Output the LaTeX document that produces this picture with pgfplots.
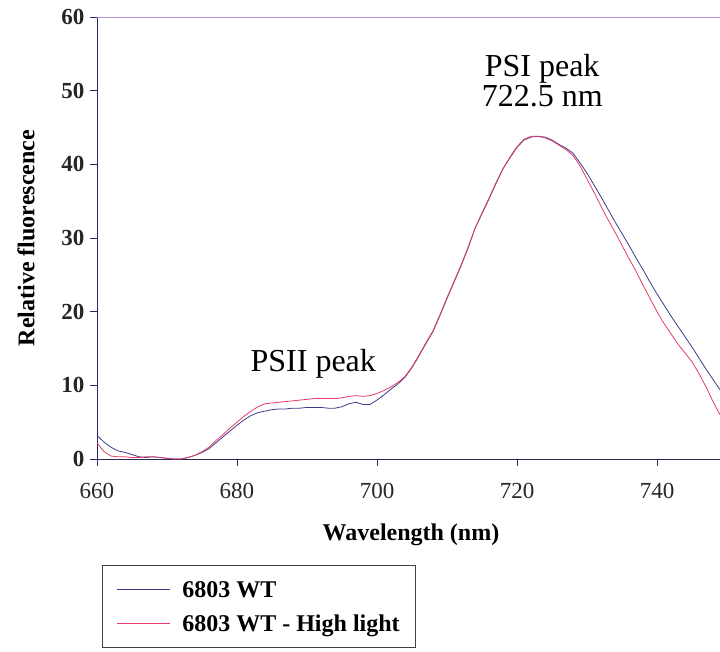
\documentclass[border=0pt]{standalone}
\usepackage{fontspec}
\setmainfont{Liberation Serif}
\usepackage{pgfplots}
\pgfplotsset{compat=1.18}

\definecolor{wtblue}{RGB}{60,60,140}
\definecolor{hlred}{RGB}{232,60,104}
\definecolor{axisnavy}{RGB}{40,40,90}
\definecolor{toplav}{RGB}{180,150,220}

\begin{document}
\begin{tikzpicture}
\begin{axis}[
  scale only axis,
  width=623pt, height=442pt,
  xmin=660, xmax=749, ymin=0, ymax=60,
  clip=false,
  axis x line*=bottom, axis y line*=left,
  axis line style={axisnavy, line width=0.9pt, -},
  xtick={660,680,700,720,740},
  ytick={0,10,20,30,40,50,60},
  tick align=outside,
  major tick length=7pt,
  tick style={axisnavy, line width=0.8pt},
  /pgf/number format/assume math mode=true,
  /pgf/number format/1000 sep={},
  xticklabel style={font=\fontsize{23}{27}\selectfont, text=black!85, yshift=-14pt},
  yticklabel style={font=\bfseries\fontsize{23}{27}\selectfont, text=black!85, xshift=-2pt},
  xlabel={Wavelength (nm)},
  ylabel={Relative fluorescence},
  every axis x label/.style={at={(axis description cs:0,0)}, xshift=314pt, yshift=-76pt, anchor=center, font=\bfseries\fontsize{24}{28}\selectfont},
  every axis y label/.style={at={(axis description cs:0,0.5)}, xshift=-71pt, rotate=90, anchor=center, font=\bfseries\fontsize{24}{28}\selectfont},
  legend style={at={(axis description cs:0,0)}, anchor=north west, xshift=5pt, yshift=-106pt,
    draw=black!75, line width=0.7pt, font=\bfseries\fontsize{24}{28}\selectfont,
    inner xsep=14pt, inner ysep=7pt, column sep=10pt, cells={anchor=west},
    nodes={text height=23pt, text depth=7pt}},
  legend image code/.code={\draw[#1, line width=1pt] (0pt,0pt) -- (53pt,0pt);},
]
% 6803 WT
\addplot[wtblue, line width=0.8pt] coordinates {
(660,3.2) (661,2.3) (662,1.6) (663,1.1) (664,0.9) (665,0.6) (666,0.3) (667,0.2)
(668,0.3) (669,0.2) (670,0.1) (671,0.0) (672,0.0) (673,0.2) (674,0.5) (675,0.9)
(676,1.4) (677,2.2) (678,3.0) (679,3.8) (680,4.6) (681,5.3) (682,5.9) (683,6.3)
(684,6.5) (685,6.7) (686,6.8) (687,6.8) (688,6.9) (689,6.9) (690,7.0) (691,7.0)
(692,7.0) (693,6.9) (694,6.9) (695,7.1) (696,7.5) (697,7.7) (698,7.4) (699,7.4)
(700,8.0) (701,8.7) (702,9.5) (703,10.2) (704,11.1) (705,12.4) (706,14.0) (707,15.7)
(708,17.3) (709,19.5) (710,21.8) (711,24.0) (712,26.2) (713,28.6) (714,31.3) (715,33.3)
(716,35.3) (717,37.4) (718,39.4) (719,40.9) (720,42.3) (721,43.3) (722,43.7) (723,43.8)
(724,43.7) (725,43.3) (726,42.7) (727,42.2) (728,41.5) (729,40.2) (730,38.8) (731,37.2)
(732,35.6) (733,33.9) (734,32.2) (735,30.6) (736,29.0) (737,27.3) (738,25.7) (739,24.0)
(740,22.4) (741,20.9) (742,19.4) (743,18.0) (744,16.6) (745,15.2) (746,13.7) (747,12.2)
(748,10.8) (749,9.4)
};
\addlegendentry{6803 WT}
% 6803 WT grown under high light
\addplot[hlred, line width=0.8pt] coordinates {
(660,2.2) (661,1.0) (662,0.4) (663,0.3) (664,0.3) (665,0.2) (666,0.2) (667,0.3)
(668,0.3) (669,0.2) (670,0.1) (671,0.0) (672,0.0) (673,0.2) (674,0.5) (675,1.0)
(676,1.6) (677,2.5) (678,3.3) (679,4.2) (680,5.0) (681,5.8) (682,6.5) (683,7.1)
(684,7.5) (685,7.6) (686,7.7) (687,7.8) (688,7.9) (689,8.0) (690,8.1) (691,8.2)
(692,8.2) (693,8.2) (694,8.2) (695,8.3) (696,8.5) (697,8.6) (698,8.5) (699,8.6)
(700,8.9) (701,9.3) (702,9.8) (703,10.4) (704,11.2) (705,12.5) (706,14.1) (707,15.8)
(708,17.4) (709,19.6) (710,21.9) (711,24.1) (712,26.3) (713,28.7) (714,31.3) (715,33.4)
(716,35.4) (717,37.5) (718,39.4) (719,41.0) (720,42.4) (721,43.4) (722,43.8) (723,43.8)
(724,43.6) (725,43.2) (726,42.6) (727,42.0) (728,41.2) (729,39.8) (730,38.0) (731,36.2)
(732,34.3) (733,32.5) (734,30.8) (735,29.0) (736,27.2) (737,25.5) (738,23.6) (739,21.8)
(740,20.0) (741,18.4) (742,17.0) (743,15.6) (744,14.4) (745,13.2) (746,11.6) (747,9.8)
(748,7.8) (749,6.0)
};
\addlegendentry{6803 WT - High light}

% frame line along the top of the plot area
\draw[toplav, line width=0.9pt] (rel axis cs:0,1) -- (rel axis cs:1,1);

% peak annotations
\node[anchor=base, align=center, font=\fontsize{32}{30}\selectfont] at (axis cs:723.6,47.9) {PSI peak\\722.5 nm};
\node[anchor=base, font=\fontsize{32}{36}\selectfont] at (axis cs:690.9,11.85) {PSII peak};
\end{axis}
\pgfresetboundingbox
\useasboundingbox (-97pt,-192pt) rectangle (623pt,459pt);
\end{tikzpicture}
\end{document}
